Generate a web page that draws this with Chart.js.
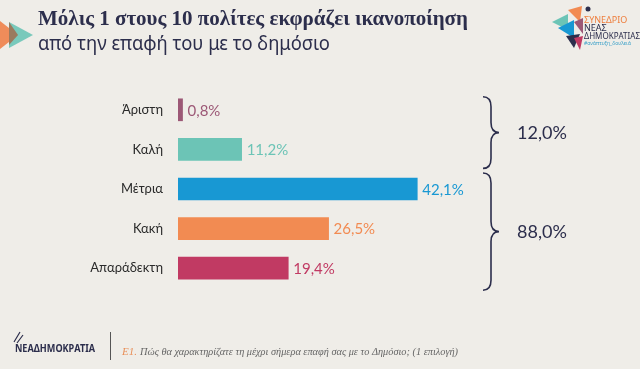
<!DOCTYPE html>
<html>
<head>
<meta charset="utf-8">
<script src="https://cdn.jsdelivr.net/npm/chart.js@4.4.0/dist/chart.umd.min.js"></script>
<style>
  html, body { margin: 0; padding: 0; background: #efede8; }
  #wrap { width: 640px; height: 369px; position: relative; }
</style>
</head>
<body>
<div id="wrap"><canvas id="chart" width="640" height="369"></canvas></div>
<script>
// values
const categories = ['Άριστη', 'Καλή', 'Μέτρια', 'Κακή', 'Απαράδεκτη'];
const values = [0.8, 11.2, 42.1, 26.5, 19.4];
const barColors = ['#9c5876', '#6cc4b6', '#1898d3', '#f28b52', '#c13a63'];
// brackets on the right: which bars each one groups
const groups = [[0, 1], [2, 3, 4]];

const navy = '#2c2e4c';
const fmt = v => v.toFixed(1).replace('.', ',') + '%';

// value labels at the end of each bar
const valueLabels = {
  id: 'valueLabels',
  afterDatasetsDraw(chart) {
    const ctx = chart.ctx;
    const meta = chart.getDatasetMeta(0);
    ctx.save();
    ctx.font = '15px Lato, "Noto Sans", sans-serif';
    ctx.textBaseline = 'middle';
    meta.data.forEach((bar, i) => {
      ctx.fillStyle = barColors[i];
      ctx.fillText(fmt(values[i]), bar.x + 5, bar.y + 1);
    });
    ctx.restore();
  }
};

// curly braces + group totals
function brace(ctx, x, top, bottom, w) {
  const mid = (top + bottom) / 2;
  const r = Math.min(10, (bottom - top) / 6);
  ctx.beginPath();
  ctx.moveTo(x, top);
  ctx.quadraticCurveTo(x + w / 2, top, x + w / 2, top + r);
  ctx.lineTo(x + w / 2, mid - r);
  ctx.quadraticCurveTo(x + w / 2, mid, x + w, mid);
  ctx.quadraticCurveTo(x + w / 2, mid, x + w / 2, mid + r);
  ctx.lineTo(x + w / 2, bottom - r);
  ctx.quadraticCurveTo(x + w / 2, bottom, x, bottom);
  ctx.stroke();
}

const braces = {
  id: 'braces',
  afterDraw(chart) {
    const ctx = chart.ctx;
    const y = chart.scales.y;
    ctx.save();
    ctx.strokeStyle = navy;
    ctx.lineWidth = 1.6;
    ctx.fillStyle = navy;
    ctx.font = '18px Lato, "Noto Sans", sans-serif';
    ctx.textBaseline = 'middle';
    const spans = [[-13, 19], [-16, 22]];
    groups.forEach((g, k) => {
      const top = y.getPixelForValue(g[0]) + spans[k][0];
      const bottom = y.getPixelForValue(g[g.length - 1]) + spans[k][1];
      brace(ctx, 483, top, bottom, 16);
      const total = g.reduce((s, i) => s + values[i], 0);
      ctx.fillText(fmt(total), 517, (top + bottom) / 2 + 1);
    });
    ctx.restore();
  }
};

// title, logos and footer
const decor = {
  id: 'decor',
  beforeDraw(chart) {
    const ctx = chart.ctx;
    ctx.save();
    ctx.fillStyle = '#efede8';
    ctx.fillRect(0, 0, chart.width, chart.height);

    // arrow marks left of title
    ctx.fillStyle = '#ef8c5a';
    ctx.beginPath(); ctx.moveTo(-4, 18); ctx.lineTo(18, 35); ctx.lineTo(-4, 52); ctx.fill();
    ctx.fillStyle = 'rgba(108,196,182,0.9)';
    ctx.beginPath(); ctx.moveTo(9, 22); ctx.lineTo(33, 35); ctx.lineTo(9, 48); ctx.fill();
    ctx.fillStyle = '#9a7a5e';
    ctx.beginPath(); ctx.moveTo(9, 22); ctx.lineTo(18, 35); ctx.lineTo(9, 45); ctx.fill();

    ctx.fillStyle = navy;
    ctx.textBaseline = 'alphabetic';
    ctx.font = 'bold 21px "Liberation Serif", serif';
    ctx.fillText('Μόλις 1 στους 10 πολίτες εκφράζει ικανοποίηση', 38, 25, 472);
    ctx.font = '19px "Noto Sans", sans-serif';
    ctx.fillText('από την επαφή του με το δημόσιο', 38, 50, 292);

    // congress logo
    const tri = (pts, c) => {
      ctx.fillStyle = c; ctx.beginPath(); ctx.moveTo(pts[0], pts[1]);
      for (let i = 2; i < pts.length; i += 2) ctx.lineTo(pts[i], pts[i + 1]);
      ctx.fill();
    };
    tri([552, 22, 568, 14, 568, 30], '#6cc4b6');
    tri([558, 28, 574, 20, 574, 38], '#1898d3');
    tri([568, 10, 582, 6, 580, 22], '#f28b52');
    tri([574, 22, 583, 18, 583, 34], '#9c5876');
    tri([566, 36, 580, 34, 574, 48], '#2c2e4c');
    tri([574, 38, 583, 36, 580, 50], '#c13a63');
    ctx.fillStyle = navy;
    ctx.beginPath(); ctx.arc(588, 9, 2.5, 0, Math.PI * 2); ctx.fill();
    ctx.font = '9px "Noto Sans", sans-serif';
    ctx.fillStyle = '#ee7f3e';
    ctx.fillText('ΣΥΝΕΔΡΙΟ', 584, 23);
    ctx.fillStyle = navy;
    ctx.fillText('ΝΕΑΣ', 584, 31);
    ctx.fillText('ΔΗΜΟΚΡΑΤΙΑΣ', 584, 39, 56);
    ctx.font = '5px "Noto Sans", sans-serif';
    ctx.fillStyle = '#3aa0c8';
    ctx.fillText('#ανάπτυξη_δουλειά', 584, 45);

    // footer
    ctx.strokeStyle = navy;
    ctx.lineWidth = 1.2;
    ctx.beginPath(); ctx.moveTo(14, 342); ctx.lineTo(20, 332); ctx.moveTo(17, 343); ctx.lineTo(23, 335); ctx.stroke();
    ctx.fillStyle = navy;
    ctx.font = 'bold 11px "Noto Sans", sans-serif';
    ctx.fillText('ΝΕΑΔΗΜΟΚΡΑΤΙΑ', 15, 352, 80);
    ctx.strokeStyle = '#555';
    ctx.lineWidth = 1;
    ctx.beginPath(); ctx.moveTo(110.5, 332); ctx.lineTo(110.5, 360); ctx.stroke();
    ctx.font = 'italic 11px "Liberation Serif", serif';
    ctx.fillStyle = '#e8905a';
    ctx.fillText('Ε1.', 122, 355);
    ctx.fillStyle = '#666';
    ctx.fillText('Πώς θα χαρακτηρίζατε τη μέχρι σήμερα επαφή σας με το Δημόσιο; (1 επιλογή)', 140, 355, 318);
    ctx.restore();
  }
};

new Chart(document.getElementById('chart'), {
  type: 'bar',
  data: {
    labels: categories,
    datasets: [{
      data: values,
      backgroundColor: barColors,
      barThickness: 22,
      borderWidth: 0
    }]
  },
  options: {
    indexAxis: 'y',
    responsive: false,
    animation: false,
    layout: { padding: { top: 90, bottom: 81, left: 0, right: 121 } },
    plugins: { legend: { display: false }, tooltip: { enabled: false } },
    scales: {
      x: { display: false, min: 0, max: 60 },
      y: {
        grid: { display: false },
        border: { display: false },
        afterFit(scale) { scale.width = 178; },
        ticks: {
          color: '#2a2a2a',
          padding: 7,
          font: { size: 13, family: 'Lato, "Noto Sans", sans-serif' }
        }
      }
    }
  },
  plugins: [decor, valueLabels, braces]
});
</script>
</body>
</html>
